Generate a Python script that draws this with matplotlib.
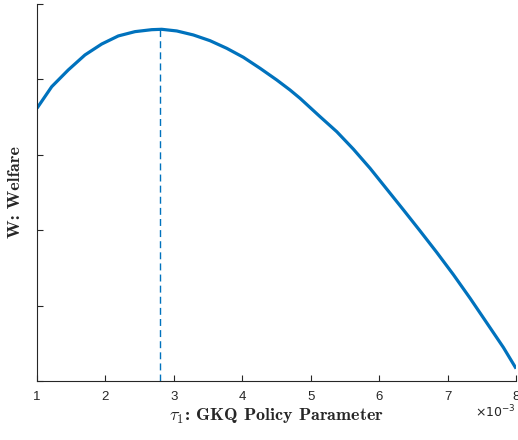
import matplotlib
matplotlib.use("Agg")
import matplotlib.pyplot as plt

plt.rcParams["mathtext.fontset"] = "cm"
plt.rcParams["axes.formatter.use_mathtext"] = True

# data (x in units of 1e-3)
tau = [1.0, 1.215, 1.457, 1.701, 1.946, 2.188, 2.432, 2.676, 2.822, 3.042, 3.284,
       3.528, 3.772, 4.015, 4.259, 4.503, 4.697, 4.843, 5.136, 5.380, 5.622, 5.866,
       6.110, 6.353, 6.597, 6.841, 7.084, 7.328, 7.572, 7.814, 8.0]
welfare = [3.617, 3.903, 4.125, 4.324, 4.469, 4.576, 4.633, 4.659, 4.664, 4.642, 4.589,
           4.513, 4.412, 4.293, 4.147, 3.992, 3.859, 3.749, 3.505, 3.306, 3.075, 2.821,
           2.545, 2.270, 1.990, 1.705, 1.410, 1.097, 0.770, 0.445, 0.165]
tau_opt = 2.80
w_opt = 4.664
xticks = [1, 2, 3, 4, 5, 6, 7, 8]
yticks = [0, 1, 2, 3, 4, 5]

fig = plt.figure(figsize=(5.18, 4.40), dpi=100)
ax = fig.add_axes([0.0714, 0.134, 0.925, 0.857])

ax.plot(tau, welfare, color="#0072BD", lw=2.3, solid_capstyle="butt",
        solid_joinstyle="round")
ax.plot([tau_opt, tau_opt], [0, w_opt], color="#0072BD", lw=1.0, ls=(0, (5, 3)))

ax.set_xlim(1, 8)
ax.set_ylim(0, 5)
ax.set_xticks(xticks)
ax.set_xticklabels([str(t) for t in xticks], fontsize=9.5, color="#262626",
                   fontfamily="Liberation Sans")
ax.set_yticks(yticks)
ax.set_yticklabels([])
ax.tick_params(direction="in", length=4, width=0.8, color="#262626", pad=7)
for s in ["top", "right"]:
    ax.spines[s].set_visible(False)
for s in ["left", "bottom"]:
    ax.spines[s].set_linewidth(0.8)
    ax.spines[s].set_color("#262626")

ax.set_xlabel(r"$\tau_1$: GKQ Policy Parameter", fontfamily="cmb10", fontsize=13,
              color="#262626", labelpad=3)
ax.set_ylabel("W: Welfare", fontfamily="cmb10", fontsize=13, color="#262626",
              labelpad=3)
fig.text(0.996, 0.064, r"$\times10^{-3}$", ha="right", va="center", fontsize=9,
         color="#262626", math_fontfamily="dejavusans")

fig.savefig("out.png", dpi=100)
